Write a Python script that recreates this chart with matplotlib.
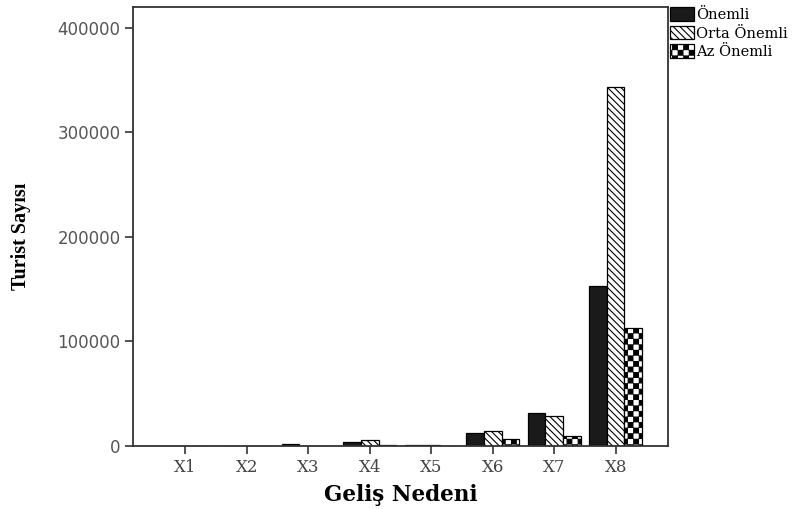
import warnings
import numpy as np
import matplotlib
matplotlib.use("Agg")
import matplotlib.pyplot as plt
from matplotlib import hatch as mhatch
from matplotlib.path import Path
from matplotlib.patches import Patch

warnings.filterwarnings("ignore")

# ---- data -------------------------------------------------------------
categories = ["X1", "X2", "X3", "X4", "X5", "X6", "X7", "X8"]
onemli = [400, 300, 1800, 3500, 700, 12400, 32000, 153000]
orta_onemli = [300, 250, 300, 5500, 1000, 14300, 28500, 343000]
az_onemli = [200, 150, 200, 500, 300, 7000, 10000, 113000]
series_labels = ["Önemli", "Orta Önemli", "Az Önemli"]
yticks = [0, 100000, 200000, 300000, 400000]


# ---- checkerboard hatch -------------------------------------------------
class CheckerHatch(mhatch.HatchPatternBase):
    """Filled checkerboard squares, triggered by the 'c' hatch character."""

    def __init__(self, hatch, density):
        n = hatch.count("c") * density
        self.n = int(n) - int(n) % 2
        self.num_vertices = 5 * (self.n * self.n // 2) if self.n else 0

    def set_vertices_and_codes(self, vertices, codes):
        step = 1.0 / self.n
        inset = 0.004
        k = 0
        for i in range(self.n):
            for j in range(self.n):
                if (i + j) % 2 == 0:
                    x0, y0 = i * step + inset, j * step + inset
                    x1, y1 = (i + 1) * step - inset, (j + 1) * step - inset
                    vertices[k:k + 5] = [(x0, y0), (x1, y0), (x1, y1), (x0, y1), (x0, y0)]
                    codes[k:k + 5] = [Path.MOVETO, Path.LINETO, Path.LINETO,
                                      Path.LINETO, Path.CLOSEPOLY]
                    k += 5


mhatch._hatch_types.append(CheckerHatch)

plt.rcParams["hatch.linewidth"] = 0.8
plt.rcParams["hatch.color"] = "black"

# ---- figure -----------------------------------------------------------
fig = plt.figure(figsize=(8.05, 5.09), dpi=100)
ax = fig.add_axes([133 / 805, 63 / 509, 535 / 805, 439 / 509])

x = np.arange(1, len(categories) + 1)
w = 0.285
styles = [
    dict(facecolor="#1a1a1a", hatch=None),
    dict(facecolor="white", hatch="\\\\\\\\\\"),
    dict(facecolor="white", hatch="ccc"),
]
for off, vals, st in zip([-w, 0, w], [onemli, orta_onemli, az_onemli], styles):
    ax.bar(x + off, vals, width=w, edgecolor="black", linewidth=0.9, **st)

ax.set_xlim(0.15, 8.85)
ax.set_ylim(0, 420000)
ax.set_yticks(yticks)
ax.set_yticklabels([str(v) for v in yticks], family="DejaVu Sans",
                   fontsize=12, color="#555555")
ax.set_xticks(x)
ax.set_xticklabels(categories, family="DejaVu Serif", fontsize=12,
                   color="#444444")
ax.tick_params(axis="both", direction="out", length=6, width=1.2,
               color="#333333", pad=3)

for s in ax.spines.values():
    s.set_linewidth(1.3)
    s.set_color("#333333")

ax.set_xlabel("Geliş Nedeni", family="DejaVu Serif", fontweight="bold",
              fontsize=15.5, labelpad=6)
ax.set_ylabel("Turist Sayısı", family="Liberation Serif", fontweight="bold",
              fontsize=14.5)
ax.yaxis.set_label_coords(-0.19, 0.477)

handles = [Patch(edgecolor="black", linewidth=0.9, label=lab, **st)
           for lab, st in zip(series_labels, styles)]
fig.legend(handles=handles, loc="upper left",
           bbox_to_anchor=(669 / 805, 1 - 6 / 509), frameon=False,
           prop={"family": "DejaVu Serif", "size": 10.5},
           handlelength=1.6, handleheight=1.05, handletextpad=0.15,
           labelspacing=0.25, borderpad=0.1, borderaxespad=0)

fig.savefig("out.png", dpi=100)
